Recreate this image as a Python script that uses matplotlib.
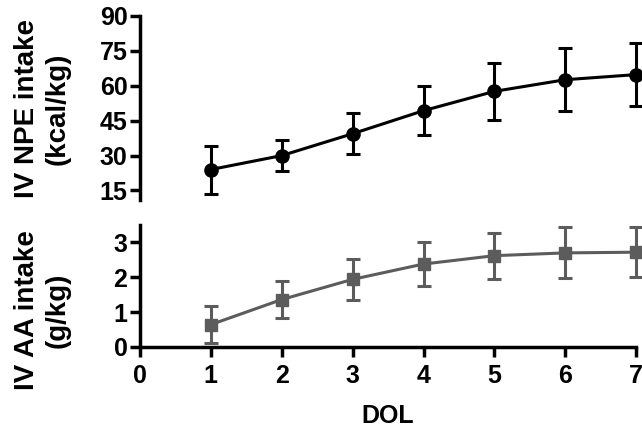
import numpy as np
import matplotlib
matplotlib.use("Agg")
import matplotlib.pyplot as plt

plt.rcParams['font.family'] = ['Liberation Sans', 'DejaVu Sans']
plt.rcParams['font.weight'] = 'bold'

dol = [1, 2, 3, 4, 5, 6, 7]
npe_mean = [24.0, 30.0, 39.4, 49.3, 57.6, 62.6, 64.8]
npe_err = [10.3, 6.8, 8.7, 10.5, 12.2, 13.6, 13.6]
aa_mean = [0.64, 1.36, 1.94, 2.38, 2.62, 2.70, 2.72]
aa_err = [0.53, 0.54, 0.58, 0.62, 0.66, 0.73, 0.72]

npe_ticks = [15, 30, 45, 60, 75, 90]
aa_ticks = [0, 1, 2, 3]
x_ticks = [0, 1, 2, 3, 4, 5, 6, 7]

gray = '#5c5c5c'
lw = 2.2

fig = plt.figure(figsize=(6.42, 4.43), dpi=100)
ax1 = fig.add_axes([0.218, 0.549, 0.773, 0.415])
ax2 = fig.add_axes([0.218, 0.217, 0.773, 0.275])

# top panel: NPE
ax1.errorbar(dol, npe_mean, yerr=npe_err, color='black', marker='o', markersize=9.5,
             linewidth=lw, elinewidth=lw, capsize=5, capthick=lw, clip_on=False)
ax1.set_xlim(0, 7)
ax1.set_ylim(11, 90)
ax1.set_yticks(npe_ticks)
ax1.set_xticks([])
for s in ['top', 'right', 'bottom']:
    ax1.spines[s].set_visible(False)
ax1.spines['left'].set_linewidth(2.5)

# bottom panel: AA
ax2.errorbar(dol, aa_mean, yerr=aa_err, color=gray, marker='s', markersize=8,
             linewidth=lw, elinewidth=lw, capsize=5, capthick=lw, clip_on=False)
ax2.set_xlim(0, 7)
ax2.set_ylim(0, 3.5)
ax2.set_yticks(aa_ticks)
ax2.set_xticks(x_ticks)
for s in ['top', 'right']:
    ax2.spines[s].set_visible(False)
ax2.spines['left'].set_linewidth(2.5)
ax2.spines['bottom'].set_linewidth(2.5)

for ax in (ax1, ax2):
    ax.tick_params(direction='out', length=7, width=2.5, labelsize=18, pad=2)
    for lab in ax.get_xticklabels() + ax.get_yticklabels():
        lab.set_fontweight('bold')
ax2.tick_params(axis='x', pad=5)

ax2.set_xlabel('DOL', fontsize=18, fontweight='bold', labelpad=12)

fig.text(0.066, 0.754, 'IV NPE intake\n(kcal/kg)', rotation=90, ha='center', va='center',
         fontsize=20, fontweight='bold', multialignment='center', linespacing=1.2)
fig.text(0.066, 0.30, 'IV AA intake\n(g/kg)', rotation=90, ha='center', va='center',
         fontsize=20, fontweight='bold', multialignment='center', linespacing=1.2)

fig.savefig('out.png', dpi=100)
